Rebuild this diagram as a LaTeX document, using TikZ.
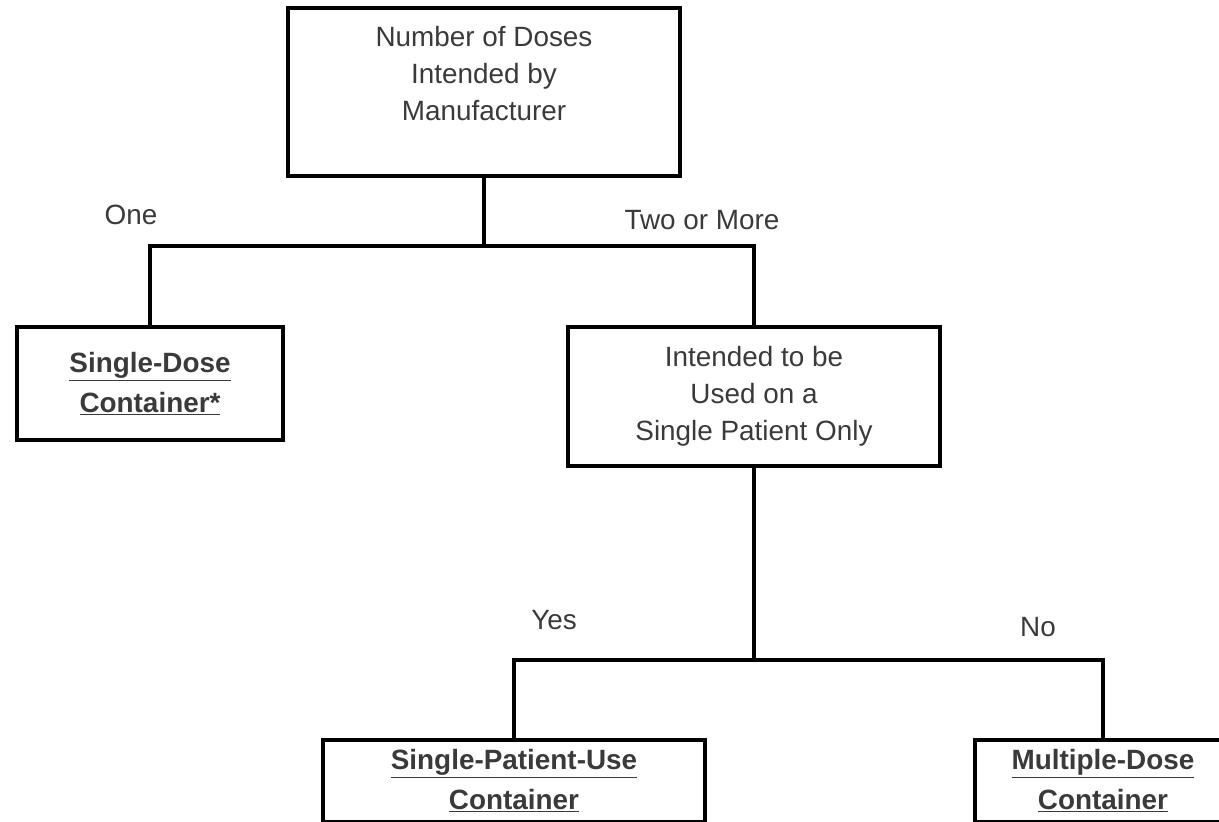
\documentclass[tikz,border=0pt]{standalone}
\usepackage{fontspec}
\setmainfont{Liberation Sans}
\definecolor{txt}{HTML}{3A3A3A}
\begin{document}
\begin{tikzpicture}[x=0.03cm,y=-0.03cm,
  outline/.style={draw=black,line width=3.2pt,align=center,text=txt,
    font=\fontsize{23.8}{31.6}\selectfont},
  result/.style={outline,font=\fontsize{23.8}{34}\selectfont\bfseries},
  wire/.style={draw=black,line width=3.2pt},
  tag/.style={text=txt,font=\fontsize{23.8}{31.6}\selectfont}]
\useasboundingbox (0,0) rectangle (1219,822);
\clip (0,0) rectangle (1219,822);
% boxes
\node[outline,minimum width=11.76cm,minimum height=5.04cm] (doses) at (484,92)
  {Number of Doses\\Intended by\\Manufacturer\\\mbox{}};
\node[result,minimum width=7.98cm,minimum height=3.39cm] (single) at (150,383.5)
  {\underline{Single-Dose}\\\underline{Container*}};
\node[outline,minimum width=11.16cm,minimum height=4.17cm] (onepatient) at (754,396.5)
  {Intended to be\\Used on a\\Single Patient Only};
\node[result,minimum width=11.46cm,minimum height=2.46cm] (patientuse) at (514,781)
  {\underline{Single-Patient-Use}\\\underline{Container}};
\node[result,minimum width=7.68cm,minimum height=2.46cm] (multiple) at (1103,781)
  {\underline{Multiple-Dose}\\\underline{Container}};
% connectors
\coordinate (fork1) at (484,246);
\coordinate (fork2) at (754,660);
\draw[wire] (doses) -- (fork1) -| (single);
\draw[wire] (fork1) -| (onepatient);
\draw[wire] (onepatient) -- (fork2) -| (patientuse);
\draw[wire] (fork2) -| (multiple);
% branch labels
\node[tag] (one) at (131,215) {One};
\node[tag] (twomore) at (702,220) {Two or More};
\node[tag] (yes) at (554,620) {Yes};
\node[tag] (no) at (1038,627) {No};
\end{tikzpicture}
\end{document}
